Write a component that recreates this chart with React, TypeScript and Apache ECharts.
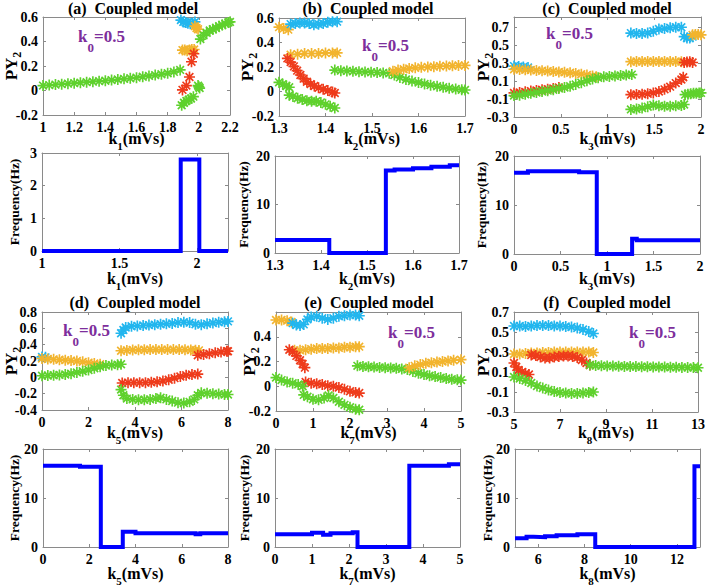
import { useEffect, useRef } from 'react';
import * as echarts from 'echarts';

const FONT = 'Liberation Serif';
const CYAN = '#22B6EE';
const ORANGE = '#F2B42E';
const RED = '#EE3B1B';
const GREEN = '#5FD12D';
const BLUE = '#0000FF';
const PURPLE = '#7D2E9C';
const AXIS_COLOR = '#8a8a8a';

// asterisk marker (filled thin bars, same winding)
const STAR =
  'path://M-5,-0.75L5,-0.75L5,0.75L-5,0.75Z M-0.75,-5L0.75,-5L0.75,5L-0.75,5Z M-4.03,-2.97L-2.97,-4.03L4.03,2.97L2.97,4.03Z M2.97,-4.03L4.03,-2.97L-2.97,4.03L-4.03,2.97Z';

// ---------- panel (a): k1 ----------
const aCyan = [[1.885, 0.575], [1.9, 0.56], [1.915, 0.555], [1.93, 0.55], [1.945, 0.545], [1.96, 0.55], [1.975, 0.56]];
const aOrange1 = [[1.975, 0.525], [1.985, 0.51], [1.995, 0.5]];
const aOrange2 = [[1.895, 0.33], [1.91, 0.33], [1.925, 0.325], [1.94, 0.33], [1.955, 0.335], [1.97, 0.335]];
const aRed = [[1.895, 0.005], [1.92, 0.04], [1.94, 0.11], [1.953, 0.235], [1.968, 0.3]];
const aGreen1 = [[1.0, 0.04], [1.04, 0.044], [1.08, 0.048], [1.12, 0.052], [1.16, 0.056], [1.2, 0.06], [1.24, 0.064], [1.28, 0.068], [1.32, 0.072], [1.36, 0.076], [1.4, 0.08], [1.44, 0.085], [1.48, 0.09], [1.52, 0.095], [1.56, 0.1], [1.6, 0.105], [1.64, 0.112], [1.68, 0.119], [1.72, 0.126], [1.76, 0.133], [1.8, 0.141], [1.84, 0.152], [1.88, 0.168]];
const aGreen2 = [[1.89, -0.12], [1.905, -0.1], [1.92, -0.085], [1.935, -0.075], [1.95, -0.065], [1.965, -0.05]];
const aGreen3 = [[1.995, 0.04], [2.0, 0.03], [2.005, 0.02]];
const aGreen4 = [[2.01, 0.42], [2.03, 0.45], [2.05, 0.47], [2.07, 0.49], [2.09, 0.5], [2.11, 0.51], [2.13, 0.525], [2.15, 0.535], [2.17, 0.545], [2.19, 0.555], [2.2, 0.56]];

// ---------- panel (b): k2 ----------
const bOrange1 = [[1.3, 0.525], [1.31, 0.515], [1.32, 0.505]];
const bCyan = [[1.325, 0.55], [1.335, 0.555], [1.345, 0.56], [1.355, 0.56], [1.365, 0.555], [1.375, 0.545], [1.385, 0.55], [1.395, 0.555], [1.405, 0.565], [1.415, 0.57], [1.425, 0.57]];
const bOrange2 = [[1.325, 0.3], [1.34, 0.305], [1.355, 0.31], [1.37, 0.31], [1.385, 0.31], [1.4, 0.315], [1.415, 0.315], [1.425, 0.315]];
const bRed = [[1.318, 0.27], [1.325, 0.24], [1.332, 0.205], [1.339, 0.17], [1.346, 0.135], [1.353, 0.105], [1.36, 0.08], [1.368, 0.06], [1.376, 0.045], [1.385, 0.03], [1.395, 0.018], [1.405, 0.008], [1.415, -0.005], [1.42, -0.012]];
const bGreen1 = [[1.3, 0.075], [1.308, 0.06], [1.316, 0.045], [1.322, 0.035]];
const bGreen2 = [[1.322, -0.03], [1.33, -0.04], [1.34, -0.055], [1.35, -0.065], [1.36, -0.075], [1.37, -0.08], [1.38, -0.08], [1.39, -0.09], [1.4, -0.105], [1.41, -0.12], [1.42, -0.135]];
const bGreen3 = [[1.42, 0.175], [1.433, 0.17], [1.446, 0.168], [1.459, 0.165], [1.472, 0.162], [1.485, 0.16], [1.498, 0.157], [1.511, 0.155], [1.524, 0.152], [1.537, 0.148], [1.548, 0.135], [1.56, 0.115], [1.573, 0.098], [1.586, 0.085], [1.6, 0.073], [1.613, 0.062], [1.626, 0.052], [1.64, 0.043], [1.653, 0.035], [1.666, 0.027], [1.68, 0.02], [1.693, 0.014], [1.7, 0.012]];
const bOrange3 = [[1.545, 0.165], [1.556, 0.175], [1.568, 0.182], [1.58, 0.188], [1.593, 0.193], [1.606, 0.197], [1.62, 0.2], [1.633, 0.203], [1.646, 0.206], [1.66, 0.208], [1.673, 0.21], [1.686, 0.212], [1.7, 0.213]];

// ---------- panel (c): k3 ----------
const cCyan1 = [[0.0, 0.27], [0.05, 0.265], [0.1, 0.26], [0.15, 0.255]];
const cOrange1 = [[0.0, 0.235], [0.06, 0.232], [0.12, 0.229], [0.18, 0.226], [0.24, 0.222], [0.3, 0.218], [0.36, 0.214], [0.42, 0.21], [0.48, 0.205], [0.54, 0.2], [0.6, 0.195], [0.66, 0.188], [0.72, 0.18], [0.78, 0.17], [0.84, 0.16], [0.88, 0.152]];
const cRed1 = [[0.0, -0.03], [0.06, -0.025], [0.12, -0.018], [0.18, -0.01], [0.24, -0.003], [0.3, 0.005], [0.36, 0.012], [0.42, 0.02], [0.48, 0.03]];
const cGreen1 = [[0.0, -0.06], [0.06, -0.055], [0.12, -0.045], [0.18, -0.035], [0.24, -0.025], [0.3, -0.015], [0.36, -0.005], [0.42, 0.005], [0.48, 0.018], [0.54, 0.03], [0.6, 0.045], [0.66, 0.065], [0.72, 0.085], [0.78, 0.105], [0.84, 0.125], [0.9, 0.14], [0.96, 0.15], [1.02, 0.155], [1.08, 0.16], [1.14, 0.165], [1.2, 0.17], [1.26, 0.175]];
const cCyan2 = [[1.25, 0.64], [1.31, 0.635], [1.37, 0.635], [1.43, 0.64], [1.49, 0.66], [1.55, 0.685], [1.61, 0.69], [1.67, 0.7], [1.73, 0.705], [1.79, 0.705]];
const cCyan3 = [[1.82, 0.6], [1.85, 0.585], [1.88, 0.585], [1.91, 0.6]];
const cOrange2 = [[1.25, 0.32], [1.31, 0.322], [1.37, 0.322], [1.43, 0.322], [1.49, 0.322], [1.55, 0.322], [1.61, 0.322], [1.67, 0.322], [1.73, 0.322], [1.79, 0.32]];
const cOrange3 = [[1.91, 0.62], [1.94, 0.625], [1.97, 0.625], [2.0, 0.62]];
const cRed2 = [[1.25, -0.05], [1.31, -0.048], [1.37, -0.045], [1.43, -0.04], [1.49, -0.03], [1.55, -0.015], [1.61, 0.01], [1.67, 0.04], [1.73, 0.08], [1.79, 0.12], [1.81, 0.145]];
const cRed3 = [[1.82, 0.31], [1.85, 0.315], [1.88, 0.32], [1.91, 0.31]];
const cGreen2 = [[1.25, -0.215], [1.31, -0.21], [1.37, -0.2], [1.43, -0.185], [1.49, -0.165], [1.55, -0.175], [1.61, -0.18], [1.67, -0.18], [1.73, -0.175], [1.79, -0.17], [1.82, -0.16]];
const cGreen3 = [[1.83, -0.05], [1.86, -0.045], [1.89, -0.04], [1.92, -0.035], [1.95, -0.035], [1.98, -0.03], [2.0, -0.03]];

// ---------- panel (d): k5 ----------
const dCyan1 = [[0.0, 0.25], [0.15, 0.245]];
const dOrange1 = [[0.0, 0.23], [0.25, 0.225], [0.5, 0.22], [0.75, 0.215], [1.0, 0.21], [1.25, 0.205], [1.5, 0.2], [1.75, 0.19], [2.0, 0.18], [2.25, 0.17], [2.5, 0.16]];
const dGreen1 = [[0.0, 0.02], [0.25, 0.022], [0.5, 0.025], [0.75, 0.03], [1.0, 0.035], [1.25, 0.045], [1.5, 0.06], [1.75, 0.075], [2.0, 0.09], [2.25, 0.11], [2.5, 0.13], [2.75, 0.145], [3.0, 0.15], [3.25, 0.155], [3.4, 0.16]];
const dCyan2 = [[3.4, 0.54], [3.5, 0.58], [3.6, 0.61], [3.85, 0.625], [4.1, 0.63], [4.35, 0.635], [4.6, 0.64], [4.85, 0.645], [5.1, 0.65], [5.35, 0.655], [5.6, 0.66], [5.85, 0.67], [6.1, 0.675], [6.35, 0.67], [6.6, 0.65], [6.85, 0.645], [7.1, 0.655], [7.35, 0.665], [7.6, 0.675], [7.85, 0.68], [8.0, 0.685]];
const dOrange2 = [[3.4, 0.325], [3.65, 0.33], [3.9, 0.335], [4.15, 0.337], [4.4, 0.338], [4.65, 0.34], [4.9, 0.34], [5.15, 0.34], [5.4, 0.34], [5.65, 0.34], [5.9, 0.34], [6.15, 0.338], [6.4, 0.335], [6.6, 0.332], [6.75, 0.33]];
const dRed2 = [[3.45, -0.07], [3.7, -0.065], [3.95, -0.065], [4.2, -0.065], [4.45, -0.065], [4.7, -0.06], [4.95, -0.055], [5.2, -0.045], [5.45, -0.03], [5.7, -0.01], [5.95, 0.01], [6.2, 0.025], [6.45, 0.035], [6.7, 0.04]];
const dRed3 = [[6.7, 0.27], [6.95, 0.28], [7.2, 0.29], [7.45, 0.3], [7.7, 0.31], [7.95, 0.32], [8.0, 0.32]];
const dGreen2 = [[3.4, -0.15], [3.5, -0.22], [3.65, -0.26], [3.9, -0.27], [4.15, -0.275], [4.4, -0.275], [4.65, -0.27], [4.9, -0.26], [5.1, -0.25], [5.35, -0.27], [5.6, -0.29], [5.85, -0.31], [6.1, -0.315], [6.35, -0.3], [6.55, -0.27], [6.7, -0.22], [6.85, -0.19], [7.1, -0.195], [7.35, -0.2], [7.6, -0.205], [7.85, -0.21], [8.0, -0.21]];

// ---------- panel (e): k7 ----------
const eOrange1 = [[0.0, 0.535], [0.15, 0.535], [0.3, 0.53], [0.42, 0.52]];
const eCyan1 = [[0.45, 0.51], [0.55, 0.495], [0.65, 0.49], [0.75, 0.5], [0.85, 0.54], [0.95, 0.56], [1.1, 0.565], [1.25, 0.55], [1.4, 0.54], [1.55, 0.55], [1.7, 0.565], [1.85, 0.57], [2.0, 0.575], [2.15, 0.575], [2.25, 0.57]];
const eOrange2 = [[0.5, 0.29], [0.65, 0.29], [0.8, 0.295], [0.95, 0.3], [1.1, 0.305], [1.25, 0.305], [1.4, 0.305], [1.55, 0.31], [1.7, 0.31], [1.85, 0.315], [2.0, 0.315], [2.15, 0.32], [2.25, 0.32]];
const eRed1 = [[0.36, 0.295], [0.45, 0.28], [0.55, 0.245], [0.65, 0.21], [0.72, 0.18], [0.78, 0.15]];
const eRed2 = [[0.8, 0.035], [0.95, 0.025], [1.1, 0.02], [1.25, 0.015], [1.4, 0.005], [1.55, 0.0], [1.7, -0.01], [1.85, -0.025], [2.0, -0.04], [2.15, -0.05], [2.25, -0.055]];
const eGreen1 = [[0.0, 0.07], [0.15, 0.05], [0.3, 0.035], [0.45, 0.025], [0.6, 0.015], [0.72, 0.0]];
const eGreen2 = [[0.75, -0.07], [0.85, -0.085], [1.0, -0.105], [1.15, -0.11], [1.3, -0.095], [1.42, -0.075], [1.55, -0.095], [1.7, -0.125], [1.85, -0.15], [2.0, -0.17], [2.15, -0.185], [2.25, -0.19]];
const eGreen3 = [[2.2, 0.165], [2.35, 0.16], [2.5, 0.158], [2.65, 0.155], [2.8, 0.152], [2.95, 0.15], [3.1, 0.148], [3.25, 0.145], [3.4, 0.14], [3.55, 0.135], [3.7, 0.12], [3.85, 0.105], [4.0, 0.095], [4.15, 0.085], [4.3, 0.078], [4.45, 0.07], [4.6, 0.063], [4.75, 0.057], [4.9, 0.052], [5.0, 0.05]];
const eOrange3 = [[3.6, 0.15], [3.75, 0.165], [3.9, 0.175], [4.05, 0.185], [4.2, 0.19], [4.35, 0.195], [4.5, 0.2], [4.65, 0.205], [4.8, 0.21], [5.0, 0.215]];

// ---------- panel (f): k8 ----------
const fCyan = [[5.0, 0.56], [5.25, 0.56], [5.5, 0.555], [5.75, 0.56], [6.0, 0.565], [6.25, 0.565], [6.5, 0.565], [6.75, 0.56], [7.0, 0.56], [7.25, 0.555], [7.5, 0.55], [7.75, 0.54], [8.0, 0.525], [8.25, 0.505], [8.45, 0.485]];
const fOrange = [[5.0, 0.28], [5.25, 0.28], [5.5, 0.285], [5.75, 0.29], [6.0, 0.29], [6.25, 0.295], [6.5, 0.295], [6.75, 0.3], [7.0, 0.3], [7.25, 0.3], [7.5, 0.3], [7.75, 0.3], [8.0, 0.3], [8.25, 0.3], [8.45, 0.295]];
const fRed1 = [[5.75, 0.27], [5.95, 0.265], [6.15, 0.25], [6.35, 0.24], [6.55, 0.24], [6.75, 0.25], [6.95, 0.255], [7.15, 0.26], [7.35, 0.26], [7.55, 0.255], [7.75, 0.245], [7.95, 0.22], [8.15, 0.19], [8.3, 0.17]];
const fRed2 = [[5.0, 0.19], [5.1, 0.15], [5.2, 0.12], [5.35, 0.1], [5.5, 0.085], [5.65, 0.075]];
const fGreen1 = [[5.0, 0.05], [5.25, 0.035], [5.5, 0.015], [5.75, -0.01], [6.0, -0.04], [6.25, -0.06], [6.5, -0.08], [6.75, -0.095], [7.0, -0.105], [7.25, -0.11], [7.5, -0.115], [7.75, -0.115], [8.0, -0.11], [8.25, -0.105], [8.45, -0.1]];
const fGreen2 = [[8.3, 0.17], [8.55, 0.165], [8.8, 0.163], [9.05, 0.161], [9.3, 0.159], [9.55, 0.157], [9.8, 0.156], [10.05, 0.155], [10.3, 0.154], [10.55, 0.153], [10.8, 0.152], [11.05, 0.151], [11.3, 0.15], [11.55, 0.149], [11.8, 0.148], [12.05, 0.147], [12.3, 0.146], [12.55, 0.145], [12.8, 0.144], [13.0, 0.143]];

// ---------- frequency (Hz) step data: [k, frequency held until next k] ----------
const freqA = [[1.0, 0], [1.895, 2.8], [2.015, 0], [2.2, 0]];
const freqB = [[1.3, 2.7], [1.418, 0], [1.541, 17.0], [1.56, 17.2], [1.6, 17.5], [1.64, 17.8], [1.68, 18.1], [1.7, 18.2]];
const freqC = [[0.0, 16.6], [0.15, 16.9], [0.7, 16.7], [0.89, 0], [1.27, 3.1], [1.32, 2.8], [2.0, 2.8]];
const freqD = [[0.0, 16.6], [1.6, 16.4], [2.5, 0], [3.45, 3.1], [4.0, 2.8], [6.6, 2.6], [6.8, 2.8], [8.0, 2.8]];
const freqE = [[0.0, 2.6], [1.0, 2.9], [1.3, 2.5], [1.5, 2.8], [2.1, 3.0], [2.23, 0], [3.63, 16.6], [4.7, 16.9], [5.0, 16.9]];
const freqF = [[5.0, 1.8], [5.5, 2.1], [5.8, 2.0], [6.3, 2.2], [6.8, 2.4], [7.7, 2.6], [8.47, 0], [12.76, 16.5], [13.0, 16.5]];

// ---------- tick values ----------
const ticksPYa = [-0.2, 0, 0.2, 0.4, 0.6];
const ticksPYc = [-0.3, -0.1, 0.1, 0.3, 0.5, 0.7];
const ticksPYd = [-0.4, -0.2, 0, 0.2, 0.4, 0.6, 0.8];
const ticksPYe = [-0.2, 0, 0.2, 0.4];
const ticksK1 = [1, 1.2, 1.4, 1.6, 1.8, 2, 2.2];
const ticksK1f = [1, 1.5, 2];
const ticksK2 = [1.3, 1.4, 1.5, 1.6, 1.7];
const ticksK3 = [0, 0.5, 1, 1.5, 2];
const ticksK5 = [0, 2, 4, 6, 8];
const ticksK7 = [0, 1, 2, 3, 4, 5];
const ticksK8 = [5, 7, 9, 11, 13];
const ticksK8f = [6, 8, 10, 12];
const ticksFa = [0, 1, 2, 3];
const ticksF = [0, 10, 20];

type Branch = { c: string; d: number[][] };
type Panel = {
  grid: { left: number; top: number; width: number; height: number };
  x: [number, number]; xt: number[];
  y: [number, number]; yt: number[];
  sub: string; kind: 'py' | 'freq';
  yGap: number; xGap: number;
  branches?: Branch[]; freq?: number[][];
  title?: { text: string; x: number; y: number };
  k0?: { x: number; y: number };
};

const panels: Panel[] = [
  {
    grid: { left: 43, top: 17, width: 187, height: 98 }, x: [1, 2.2], xt: ticksK1, y: [-0.2, 0.6], yt: ticksPYa,
    sub: '1', kind: 'py', yGap: 20, xGap: 10,
    branches: [{ c: CYAN, d: aCyan }, { c: ORANGE, d: aOrange1 }, { c: ORANGE, d: aOrange2 }, { c: RED, d: aRed }, { c: GREEN, d: aGreen1 }, { c: GREEN, d: aGreen2 }, { c: GREEN, d: aGreen3 }, { c: GREEN, d: aGreen4 }],
    title: { text: '(a)  Coupled model', x: 133, y: 8 }, k0: { x: 78, y: 36 },
  },
  {
    grid: { left: 279, top: 18, width: 186, height: 98 }, x: [1.3, 1.7], xt: ticksK2, y: [-0.2, 0.6], yt: ticksPYa,
    sub: '2', kind: 'py', yGap: 20, xGap: 9,
    branches: [{ c: ORANGE, d: bOrange1 }, { c: CYAN, d: bCyan }, { c: ORANGE, d: bOrange2 }, { c: RED, d: bRed }, { c: GREEN, d: bGreen1 }, { c: GREEN, d: bGreen2 }, { c: GREEN, d: bGreen3 }, { c: ORANGE, d: bOrange3 }],
    title: { text: '(b)  Coupled model', x: 368, y: 8 }, k0: { x: 362, y: 45 },
  },
  {
    grid: { left: 514, top: 17, width: 187, height: 100 }, x: [0, 2], xt: ticksK3, y: [-0.3, 0.82], yt: ticksPYc,
    sub: '3', kind: 'py', yGap: 19, xGap: 8,
    branches: [{ c: CYAN, d: cCyan1 }, { c: ORANGE, d: cOrange1 }, { c: RED, d: cRed1 }, { c: GREEN, d: cGreen1 }, { c: CYAN, d: cCyan2 }, { c: CYAN, d: cCyan3 }, { c: ORANGE, d: cOrange2 }, { c: ORANGE, d: cOrange3 }, { c: RED, d: cRed2 }, { c: RED, d: cRed3 }, { c: GREEN, d: cGreen2 }, { c: GREEN, d: cGreen3 }],
    title: { text: '(c)  Coupled model', x: 607, y: 8 }, k0: { x: 546, y: 33 },
  },
  {
    grid: { left: 42, top: 153, width: 186, height: 98 }, x: [1, 2.2], xt: ticksK1f, y: [0, 3], yt: ticksFa,
    sub: '1', kind: 'freq', yGap: 20, xGap: 14, freq: freqA,
  },
  {
    grid: { left: 275, top: 156, width: 184, height: 97 }, x: [1.3, 1.7], xt: ticksK2, y: [0, 20], yt: ticksF,
    sub: '2', kind: 'freq', yGap: 24, xGap: 12, freq: freqB,
  },
  {
    grid: { left: 514, top: 156, width: 186, height: 98 }, x: [0, 2], xt: ticksK3, y: [0, 20], yt: ticksF,
    sub: '3', kind: 'freq', yGap: 25, xGap: 11, freq: freqC,
  },
  {
    grid: { left: 42, top: 312, width: 186, height: 98 }, x: [0, 8], xt: ticksK5, y: [-0.4, 0.8], yt: ticksPYd,
    sub: '5', kind: 'py', yGap: 19, xGap: 9,
    branches: [{ c: CYAN, d: dCyan1 }, { c: ORANGE, d: dOrange1 }, { c: GREEN, d: dGreen1 }, { c: CYAN, d: dCyan2 }, { c: ORANGE, d: dOrange2 }, { c: RED, d: dRed2 }, { c: RED, d: dRed3 }, { c: GREEN, d: dGreen2 }],
    title: { text: '(d)  Coupled model', x: 135, y: 302 }, k0: { x: 63, y: 330 },
  },
  {
    grid: { left: 276, top: 312, width: 185, height: 99 }, x: [0, 5], xt: ticksK7, y: [-0.2, 0.6], yt: ticksPYe,
    sub: '7', kind: 'py', yGap: 15, xGap: 8,
    branches: [{ c: ORANGE, d: eOrange1 }, { c: CYAN, d: eCyan1 }, { c: ORANGE, d: eOrange2 }, { c: RED, d: eRed1 }, { c: RED, d: eRed2 }, { c: GREEN, d: eGreen1 }, { c: GREEN, d: eGreen2 }, { c: GREEN, d: eGreen3 }, { c: ORANGE, d: eOrange3 }],
    title: { text: '(e)  Coupled model', x: 369, y: 302 }, k0: { x: 388, y: 332 },
  },
  {
    grid: { left: 514, top: 312, width: 187, height: 100 }, x: [5, 13], xt: ticksK8, y: [-0.3, 0.7], yt: ticksPYc,
    sub: '8', kind: 'py', yGap: 19, xGap: 7,
    branches: [{ c: CYAN, d: fCyan }, { c: ORANGE, d: fOrange }, { c: RED, d: fRed1 }, { c: RED, d: fRed2 }, { c: GREEN, d: fGreen1 }, { c: GREEN, d: fGreen2 }],
    title: { text: '(f)  Coupled model', x: 607, y: 302 }, k0: { x: 629, y: 332 },
  },
  {
    grid: { left: 43, top: 449, width: 185, height: 98 }, x: [0, 8], xt: ticksK5, y: [0, 20], yt: ticksF,
    sub: '5', kind: 'freq', yGap: 21, xGap: 13, freq: freqD,
  },
  {
    grid: { left: 275, top: 449, width: 185, height: 98 }, x: [0, 5], xt: ticksK7, y: [0, 20], yt: ticksF,
    sub: '7', kind: 'freq', yGap: 23, xGap: 13, freq: freqE,
  },
  {
    grid: { left: 515, top: 449, width: 185, height: 98 }, x: [5, 13], xt: ticksK8f, y: [0, 20], yt: ticksF,
    sub: '8', kind: 'freq', yGap: 20, xGap: 13, freq: freqF,
  },
];

const labelStyle = { color: '#000', fontFamily: FONT, fontWeight: 'bold' as const, fontSize: 14 };

function buildOption() {
  const grid: any[] = [];
  const xAxis: any[] = [];
  const yAxis: any[] = [];
  const series: any[] = [];
  const graphic: any[] = [];

  panels.forEach((p, i) => {
    grid.push({ ...p.grid, containLabel: false });
    const line = { show: true, onZero: false, lineStyle: { color: AXIS_COLOR, width: 1 } };
    const tickX = { show: true, inside: true, length: 3, customValues: p.xt, lineStyle: { color: AXIS_COLOR } };
    const tickY = { show: true, inside: true, length: 3, customValues: p.yt, lineStyle: { color: AXIS_COLOR } };
    xAxis.push({
      type: 'value', gridIndex: i, min: p.x[0], max: p.x[1], position: 'bottom',
      axisLine: line, axisTick: tickX, splitLine: { show: false },
      axisLabel: { ...labelStyle, customValues: p.xt, margin: 5 },
      name: `{n|k}{s|${p.sub}}{n|(mVs)}`, nameLocation: 'middle', nameGap: p.xGap, nameMoveOverlap: false,
      nameTextStyle: {
        fontFamily: FONT,
        rich: {
          n: { fontFamily: FONT, fontWeight: 'bold', fontSize: 16, color: '#000', lineHeight: 26 },
          s: { fontFamily: FONT, fontWeight: 'bold', fontSize: 11, color: '#000', lineHeight: 11, verticalAlign: 'bottom' },
        },
      },
    });
    xAxis.push({
      type: 'value', gridIndex: i, min: p.x[0], max: p.x[1], position: 'top',
      axisLine: line, axisTick: tickX, splitLine: { show: false }, axisLabel: { show: false },
    });
    const yName = p.kind === 'py' ? '{n|PY}{s|2}' : '{f|Frequency(Hz)}';
    yAxis.push({
      type: 'value', gridIndex: i, min: p.y[0], max: p.y[1], position: 'left',
      axisLine: line, axisTick: tickY, splitLine: { show: false },
      axisLabel: { ...labelStyle, customValues: p.yt, margin: 5 },
      name: yName, nameLocation: 'middle', nameGap: p.yGap, nameRotate: 90, nameMoveOverlap: false,
      nameTextStyle: {
        fontFamily: FONT,
        rich: {
          n: { fontFamily: FONT, fontWeight: 'bold', fontSize: 17, color: '#000', lineHeight: 24 },
          s: { fontFamily: FONT, fontWeight: 'bold', fontSize: 12, color: '#000', lineHeight: 12, verticalAlign: 'bottom' },
          f: { fontFamily: FONT, fontWeight: 'bold', fontSize: 13.5, color: '#000', lineHeight: 16 },
        },
      },
    });
    yAxis.push({
      type: 'value', gridIndex: i, min: p.y[0], max: p.y[1], position: 'right',
      axisLine: line, axisTick: tickY, splitLine: { show: false }, axisLabel: { show: false },
    });

    if (p.branches) {
      p.branches.forEach((b) => {
        series.push({
          type: 'scatter', xAxisIndex: 2 * i, yAxisIndex: 2 * i, data: b.d,
          symbol: STAR, symbolSize: 11, clip: false, silent: true,
          itemStyle: { color: b.c, opacity: 1 },
        });
      });
    }
    if (p.freq) {
      series.push({
        type: 'line', xAxisIndex: 2 * i, yAxisIndex: 2 * i, data: p.freq, step: 'end',
        showSymbol: false, symbol: 'none', clip: false, silent: true,
        lineStyle: { color: BLUE, width: 4, cap: 'butt', join: 'miter' },
      });
    }
    if (p.title) {
      graphic.push({
        type: 'text', x: p.title.x, y: p.title.y, silent: true,
        style: {
          text: p.title.text, fill: '#000', textAlign: 'center', textVerticalAlign: 'middle',
          font: `bold 16px ${FONT}`,
        },
      });
    }
    if (p.k0) {
      graphic.push({
        type: 'text', x: p.k0.x, y: p.k0.y, silent: true,
        style: {
          text: '{k|k}{s|0}{k|=0.5}', textAlign: 'left', textVerticalAlign: 'middle',
          rich: {
            k: { fontFamily: FONT, fontWeight: 'bold', fontSize: 17, fill: PURPLE, lineHeight: 36 },
            s: { fontFamily: FONT, fontWeight: 'bold', fontSize: 13, fill: PURPLE, lineHeight: 13, verticalAlign: 'bottom' },
          },
        },
      });
    }
  });

  return {
    animation: false, backgroundColor: '#fff',
    textStyle: { fontFamily: FONT },
    grid, xAxis, yAxis, series, graphic,
  };
}

export default function App() {
  const ref = useRef<HTMLDivElement>(null);
  useEffect(() => {
    const chart = echarts.init(ref.current!, null, { renderer: 'svg' });
    chart.setOption(buildOption() as any);
    return () => chart.dispose();
  }, []);
  return <div ref={ref} style={{ position: 'absolute', left: 0, top: 0, width: 708, height: 587 }} />;
}
